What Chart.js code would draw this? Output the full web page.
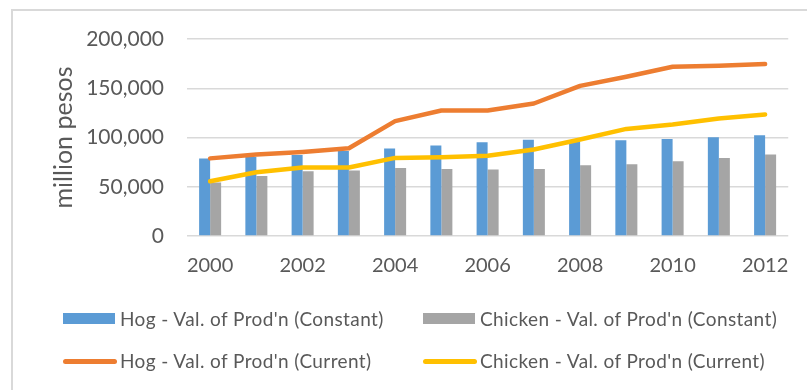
<!DOCTYPE html>
<html>
<head>
<meta charset="utf-8">
<script src="https://cdn.jsdelivr.net/npm/chart.js@4/dist/chart.umd.min.js"></script>
<style>
  html, body { margin: 0; padding: 0; background: #fff; overflow: hidden; }
  #wrap { position: relative; width: 807px; height: 390px; overflow: hidden; }
  #frame { position: absolute; left: 11px; top: 9px; width: 900px; height: 500px;
           border-left: 2px solid #d9d9d9; border-top: 2px solid #d9d9d9; box-sizing: border-box; }
  canvas { position: absolute; left: 0; top: 0; }
  .leg { position: absolute; font-family: Lato, sans-serif; font-size: 19px; letter-spacing: 0.4px;
         color: #595959; white-space: nowrap; line-height: 22px; }
  .leg .sym { position: absolute; }
</style>
</head>
<body>
<div id="wrap">
  <div id="frame"></div>
  <canvas id="chart" width="807" height="390"></canvas>
  <div id="legend"></div>
</div>
<script>
// Philippine hog and chicken value of production, million pesos
const years = ['2000','2001','2002','2003','2004','2005','2006','2007','2008','2009','2010','2011','2012'];
const hogConstant     = [78700, 80300, 82300, 86400, 88800, 91900, 95200, 97600, 96500, 97300, 98600, 100300, 102300];
const chickenConstant = [54300, 61000, 65800, 66500, 69100, 68100, 67500, 68100, 71900, 72900, 75900, 79300, 82700];
const hogCurrent      = [78800, 82700, 85400, 89100, 116600, 127400, 127400, 134500, 152400, 161600, 171800, 172800, 174500];
const chickenCurrent  = [55600, 64700, 69500, 69500, 79300, 80000, 81500, 87800, 98000, 108700, 113200, 119300, 123400];
const yTicks = [0, 50000, 100000, 150000, 200000];

const names = {
  hogConst: "Hog - Val. of Prod'n (Constant)",
  chickenConst: "Chicken - Val. of Prod'n (Constant)",
  hogCur: "Hog - Val. of Prod'n (Current)",
  chickenCur: "Chicken - Val. of Prod'n (Current)"
};
const colors = { blue: '#5B9BD5', gray: '#A5A5A5', orange: '#ED7D31', yellow: '#FFC000' };
const textColor = '#595959';

const lineStyle = {
  type: 'line', borderWidth: 4.5, pointRadius: 0, tension: 0,
  borderCapStyle: 'round', borderJoinStyle: 'round', order: 0
};
const barStyle = {
  type: 'bar', categoryPercentage: 0.476, barPercentage: 1.0, borderWidth: 0, order: 1
};

const chart = new Chart(document.getElementById('chart'), {
  data: {
    labels: years,
    datasets: [
      Object.assign({ label: names.hogConst, data: hogConstant, backgroundColor: colors.blue }, barStyle),
      Object.assign({ label: names.chickenConst, data: chickenConstant, backgroundColor: colors.gray }, barStyle),
      Object.assign({ label: names.hogCur, data: hogCurrent, borderColor: colors.orange, backgroundColor: colors.orange }, lineStyle),
      Object.assign({ label: names.chickenCur, data: chickenCurrent, borderColor: colors.yellow, backgroundColor: colors.yellow }, lineStyle)
    ]
  },
  options: {
    responsive: false,
    animation: false,
    layout: { padding: { top: 39, right: 18, left: 0, bottom: 0 } },
    plugins: { legend: { display: false }, tooltip: { enabled: false } },
    scales: {
      x: {
        grid: { display: false, drawTicks: false },
        border: { display: false },
        ticks: {
          color: textColor, font: { family: 'Lato', size: 20 }, padding: 18,
          maxRotation: 0, autoSkip: false,
          callback: function (v, i) { return i % 2 === 0 ? this.getLabelForValue(v) : ''; }
        },
        afterFit: (s) => { s.height = 154; }
      },
      y: {
        min: 0, max: 200000,
        afterBuildTicks: (s) => { s.ticks = yTicks.map(v => ({ value: v })); },
        grid: { color: '#d9d9d9', lineWidth: 1.5, drawTicks: false },
        border: { display: false },
        ticks: {
          color: textColor, font: { family: 'Lato', size: 21 }, padding: 23,
          callback: (v) => v.toLocaleString('en-US')
        },
        title: {
          display: true, text: 'million pesos', color: textColor,
          font: { family: 'Lato', size: 25, weight: 'normal' }, padding: { top: 49, bottom: 0 }
        },
        afterFit: (s) => { s.width = 187; }
      }
    }
  }
});

// Legend: two rows of two entries, built from the chart's datasets
const legendSlots = [
  { ds: 0, x: 63, y: 318.5 }, { ds: 1, x: 423, y: 318.5 },
  { ds: 2, x: 63, y: 361 },   { ds: 3, x: 423, y: 361 }
];
const legendEl = document.getElementById('legend');
legendSlots.forEach(slot => {
  const ds = chart.data.datasets[slot.ds];
  const item = document.createElement('div');
  item.className = 'leg';
  item.style.left = slot.x + 'px';
  item.style.top = (slot.y - 11) + 'px';
  const sym = document.createElement('span');
  sym.className = 'sym';
  if (ds.type === 'bar') {
    Object.assign(sym.style, { left: '0px', top: '5.5px', width: '52px', height: '11px', background: ds.backgroundColor });
  } else {
    Object.assign(sym.style, { left: '0px', top: '8.5px', width: '54px', height: '5px', borderRadius: '3px', background: ds.borderColor });
  }
  const label = document.createElement('span');
  label.textContent = ds.label;
  label.style.position = 'absolute';
  label.style.left = '57px';
  label.style.top = '0px';
  item.appendChild(sym);
  item.appendChild(label);
  legendEl.appendChild(item);
});
</script>
</body>
</html>
